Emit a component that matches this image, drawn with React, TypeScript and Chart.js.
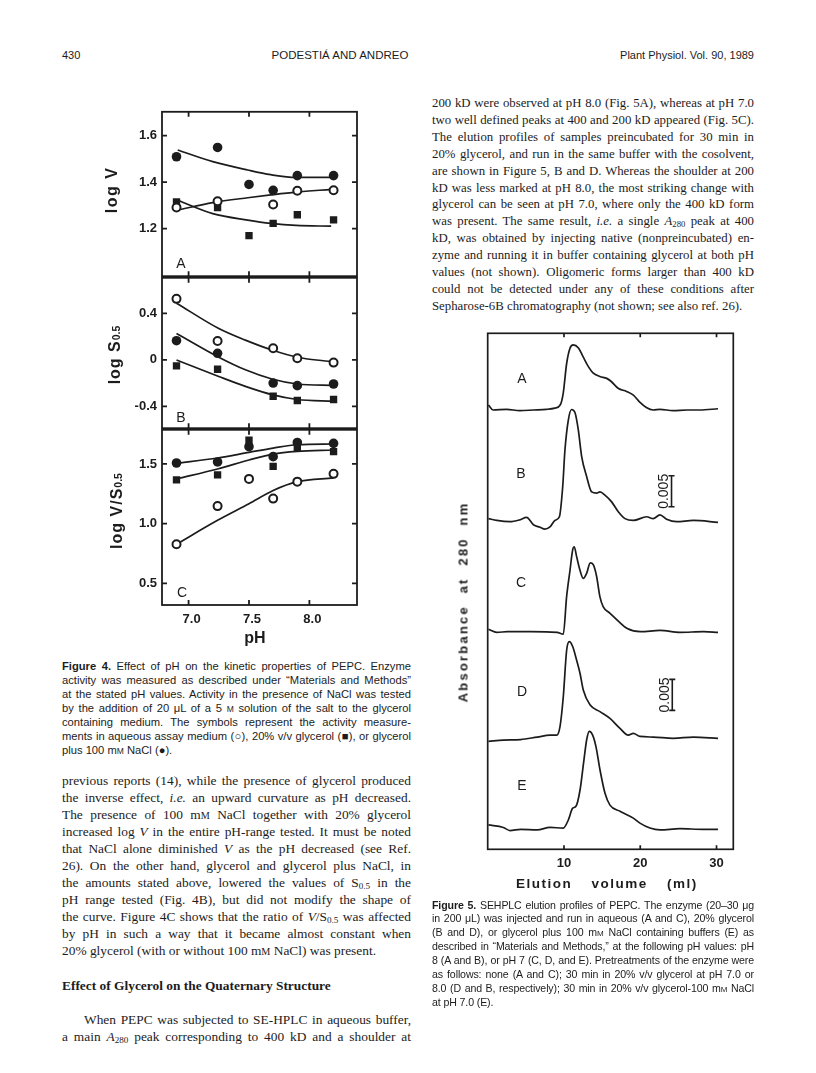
import { useEffect, useRef } from "react";
import { Chart, registerables } from "chart.js";
Chart.register(...registerables);

const INK = "#1c1c1c";
const SANS = "'Liberation Sans', Arial, Helvetica, sans-serif";
const SERIF = "'Liberation Serif', 'Times New Roman', serif";

// ---------- Figure 4 data (pH vs kinetic parameters) ----------
const PH_TICKS = [7.0, 7.5, 8.0];

// Panel A: log V
const PH_A = [6.9, 7.24, 7.5, 7.7, 7.9, 8.2];
const LOGV_AQUEOUS = [1.291, 1.318, null, 1.304, 1.363, 1.365];
const LOGV_GLYCEROL = [1.315, 1.291, 1.17, 1.223, 1.26, 1.238];
const LOGV_NACL = [1.509, 1.549, 1.39, 1.365, 1.428, 1.428];
const FIT_PH_A = [6.91, 7.2, 7.49, 7.68, 7.89, 8.18];
const FIT_LOGV_AQUEOUS = [1.28, 1.312, 1.333, 1.345, 1.357, 1.369];
const FIT_LOGV_GLYCEROL = [1.322, 1.265, 1.237, 1.223, 1.214, 1.211];
const FIT_LOGV_NACL = [1.538, 1.488, 1.452, 1.432, 1.42, 1.42];
const LOGV_TICKS = [1.2, 1.4, 1.6];
const LOGV_TICK_LABELS = ["1.2", "1.4", "1.6"];

// Panel B: log S0.5
const PH_B = [6.9, 7.24, 7.7, 7.9, 8.2];
const LOGS_AQUEOUS = [0.525, 0.162, 0.1, 0.014, -0.023];
const LOGS_GLYCEROL = [-0.051, -0.08, -0.312, -0.349, -0.34];
const LOGS_NACL = [0.165, 0.057, -0.199, -0.221, -0.207];
const FIT_PH_B = [6.9, 7.25, 7.47, 7.69, 7.9, 8.2];
const FIT_LOGS_AQUEOUS = [0.488, 0.27, 0.17, 0.085, 0.023, -0.016];
const FIT_LOGS_GLYCEROL = [0.0, -0.142, -0.227, -0.298, -0.34, -0.355];
const FIT_LOGS_NACL = [0.227, 0.023, -0.085, -0.164, -0.207, -0.219];
const LOGS_TICKS = [-0.4, 0, 0.4];
const LOGS_TICK_LABELS = ["-0.4", "0", "0.4"];

// Panel C: log V/S0.5
const PH_C = [6.9, 7.24, 7.5, 7.7, 7.9, 8.2];
const LOGVS_AQUEOUS = [0.828, 1.147, 1.375, 1.21, 1.352, 1.417];
const LOGVS_GLYCEROL = [1.367, 1.408, 1.7, 1.48, 1.633, 1.603];
const LOGVS_NACL = [1.508, 1.517, 1.645, 1.561, 1.68, 1.672];
const FIT_PH_C = [6.9, 7.24, 7.5, 7.7, 7.9, 8.2];
const FIT_LOGVS_AQUEOUS = [0.828, 1.028, 1.167, 1.278, 1.352, 1.383];
const FIT_LOGVS_GLYCEROL = [1.375, 1.458, 1.533, 1.583, 1.605, 1.617];
const FIT_LOGVS_NACL = [1.505, 1.55, 1.597, 1.633, 1.661, 1.667];
const LOGVS_TICKS = [0.5, 1.0, 1.5];
const LOGVS_TICK_LABELS = ["0.5", "1.0", "1.5"];

// ---------- Figure 5 data (elution volume, ml  vs  A280 above baseline, milli-AU) ----------
const VOL_TICKS = [10, 20, 30];
const VOL_A = [0.1, 0.7, 2.5, 4.2, 6.0, 7.7, 8.8, 9.5, 9.9, 10.35, 10.8, 11.2, 11.9, 12.5, 13.2, 13.8, 14.7, 15.6, 16.2, 17.1, 18.2, 19.1, 19.9, 20.8, 21.7, 22.6, 24.3, 26.1, 27.8, 30.2];
const ABS_A = [0.8, 0, 0.1, -0.1, 0, 0.1, 0.3, 0.8, 2.7, 7.5, 10.0, 10.5, 10.0, 8.6, 7.0, 6.0, 5.4, 5.1, 4.6, 3.5, 3.0, 2.4, 1.3, 0.4, 0, 0.1, -0.1, 0, 0, 0.2];
const VOL_B = [0.1, 1.2, 2.9, 4.2, 5.1, 6.0, 6.85, 7.5, 8.2, 8.8, 9.4, 9.83, 10.13, 10.57, 11.0, 11.44, 11.88, 12.32, 12.97, 13.63, 14.28, 14.72, 15.37, 16.25, 17.12, 18.0, 19.1, 20.84, 21.7, 22.58, 23.46, 24.77, 26.95, 30.2];
const ABS_B = [0.5, 0.2, 0, 0.3, 0.7, -0.5, -0.9, -1.2, -0.8, 0.2, 0.8, 5.6, 11.6, 16.4, 18.1, 17.6, 14.8, 10.5, 7.3, 4.8, 4.6, 4.8, 4.3, 3.2, 1.6, 0.5, 0.2, 0.8, 0.5, 1.1, 0.4, 0, 0.2, -0.1];
const VOL_C = [0.1, 1.2, 2.6, 5.6, 9.1, 9.91, 10.35, 10.79, 11.14, 11.35, 11.66, 12.1, 12.53, 12.97, 13.45, 13.84, 14.28, 14.7, 15.15, 16.0, 17.3, 18.3, 20.0, 22.6, 25.2, 28.3, 30.2];
const ABS_C = [0.5, 0, 0.1, 0.1, 0, -0.3, 5.8, 10.0, 13.3, 13.8, 12.2, 10.0, 8.7, 9.5, 11.2, 10.9, 9.0, 5.8, 4.1, 3.1, 1.6, 0.6, 0.1, 0.3, 0, 0.1, 0];
const VOL_D = [0.1, 2.05, 4.31, 6.5, 8.17, 9.04, 9.48, 9.91, 10.35, 10.7, 11.14, 11.66, 12.1, 12.53, 13.41, 14.72, 16.03, 17.34, 18.43, 19.09, 19.96, 21.71, 24.33, 26.95, 30.2];
const ABS_D = [-0.5, -0.3, -0.2, 0.2, 0.5, 0.5, 1.9, 6.7, 14.2, 15.6, 14.8, 12.6, 10.5, 7.8, 5.4, 4.3, 3.2, 1.6, 0.5, 0.8, 0.3, 0.2, 0, 0.2, 0];
const VOL_E = [0.1, 2.05, 2.92, 4.31, 6.5, 8.17, 9.91, 10.57, 11.14, 11.57, 12.1, 12.62, 12.97, 13.32, 13.76, 14.2, 14.72, 15.38, 16.03, 17.34, 19.09, 19.96, 21.27, 22.58, 25.2, 28.26, 30.2];
const ABS_E = [0.7, 0.3, -0.2, 0, -0.1, 0.3, 0.2, 1.5, 3.4, 3.7, 6.3, 11.2, 14.4, 15.8, 15.2, 13.3, 9.6, 5.8, 3.9, 2.9, 1.8, 1.0, 0.2, -0.1, 0.1, 0, 0];
const SCALE_BAR_MAU = 5; // 0.005 absorbance units

// ---------- text ----------
const HEADER = ["430", "PODESTIÁ AND ANDREO", "Plant Physiol. Vol. 90, 1989"];
const RIGHT_BODY = [
  "200 kD were observed at pH 8.0 (Fig. 5A), whereas at pH 7.0",
  "two well defined peaks at 400 and 200 kD appeared (Fig. 5C).",
  "The elution profiles of samples preincubated for 30 min in",
  "20% glycerol, and run in the same buffer with the cosolvent,",
  "are shown in Figure 5, B and D. Whereas the shoulder at 200",
  "kD was less marked at pH 8.0, the most striking change with",
  "glycerol can be seen at pH 7.0, where only the 400 kD form",
  "was present. The same result, _i.e._ a single _A_^280^ peak at 400",
  "kD, was obtained by injecting native (nonpreincubated) en-",
  "zyme and running it in buffer containing glycerol at both pH",
  "values (not shown). Oligomeric forms larger than 400 kD",
  "could not be detected under any of these conditions after",
  "Sepharose-6B chromatography (not shown; see also ref. 26).",
];
const FIG4_CAPTION = [
  "*Figure 4.* Effect of pH on the kinetic properties of PEPC. Enzyme",
  "activity was measured as described under “Materials and Methods”",
  "at the stated pH values. Activity in the presence of NaCl was tested",
  "by the addition of 20 μL of a 5 ~M~ solution of the salt to the glycerol",
  "containing medium. The symbols represent the activity measure-",
  "ments in aqueous assay medium (○), 20% v/v glycerol (■), or glycerol",
  "plus 100 m~M~ NaCl (●).",
];
const LEFT_BODY = [
  "previous reports (14), while the presence of glycerol produced",
  "the inverse effect, _i.e._ an upward curvature as pH decreased.",
  "The presence of 100 m~M~ NaCl together with 20% glycerol",
  "increased log _V_ in the entire pH-range tested. It must be noted",
  "that NaCl alone diminished _V_ as the pH decreased (see Ref.",
  "26). On the other hand, glycerol and glycerol plus NaCl, in",
  "the amounts stated above, lowered the values of S^0.5^ in the",
  "pH range tested (Fig. 4B), but did not modify the shape of",
  "the curve. Figure 4C shows that the ratio of _V_/S^0.5^ was affected",
  "by pH in such a way that it became almost constant when",
  "20% glycerol (with or without 100 m~M~ NaCl) was present.",
];
const HEADING = "Effect of Glycerol on the Quaternary Structure";
const LEFT_BODY2 = [
  "When PEPC was subjected to SE-HPLC in aqueous buffer,",
  "a main _A_^280^ peak corresponding to 400 kD and a shoulder at",
];
const FIG5_CAPTION = [
  "*Figure 5.*  SEHPLC elution profiles of PEPC. The enzyme (20–30 μg",
  "in 200 μL) was injected and run in aqueous (A and C), 20% glycerol",
  "(B and D), or glycerol plus 100 m~M~ NaCl containing buffers (E) as",
  "described in “Materials and Methods,” at the following pH values: pH",
  "8 (A and B), or pH 7 (C, D, and E). Pretreatments of the enzyme were",
  "as follows: none (A and C); 30 min in 20% v/v glycerol at pH 7.0 or",
  "8.0 (D and B, respectively); 30 min in 20% v/v glycerol-100 m~M~ NaCl",
  "at pH 7.0 (E).",
];

function rich(s: string) {
  const out: any[] = [];
  const re = /\*([^*]+)\*|_([^_]+)_|\^([^^]+)\^|~([^~]+)~/g;
  let last = 0;
  let k = 0;
  let m: any;
  while ((m = re.exec(s))) {
    if (m.index > last) out.push(s.slice(last, m.index));
    if (m[1]) out.push(<b key={k++}>{m[1]}</b>);
    else if (m[2]) out.push(<i key={k++}>{m[2]}</i>);
    else if (m[3]) out.push(<sub key={k++} style={{ fontSize: "0.68em", verticalAlign: "-0.2em", lineHeight: 0 }}>{m[3]}</sub>);
    else if (m[4]) out.push(<span key={k++} style={{ fontSize: "0.76em" }}>{m[4]}</span>);
    last = re.lastIndex;
  }
  if (last < s.length) out.push(s.slice(last));
  return out;
}

function pts(xs: number[], ys: any[]) {
  const r: any[] = [];
  xs.forEach((x, i) => {
    if (ys[i] !== null && ys[i] !== undefined) r.push({ x, y: ys[i] });
  });
  return r;
}

const framePlugin = {
  id: "frame",
  afterDatasetsDraw(chart: any, _args: any, opts: any) {
    const { ctx, chartArea: a } = chart;
    ctx.save();
    ctx.strokeStyle = INK;
    ctx.lineWidth = opts.lineWidth || 1.8;
    ctx.strokeRect(a.left, a.top, a.right - a.left, a.bottom - a.top);
    const L = opts.tick || 5;
    ctx.beginPath();
    for (const v of opts.xTicks || []) {
      const p = chart.scales.x.getPixelForValue(v);
      ctx.moveTo(p, a.top);
      ctx.lineTo(p, a.top + L);
      ctx.moveTo(p, a.bottom);
      ctx.lineTo(p, a.bottom - L);
    }
    for (const v of opts.yTicks || []) {
      const p = chart.scales.y.getPixelForValue(v);
      ctx.moveTo(a.left, p);
      ctx.lineTo(a.left + L, p);
      ctx.moveTo(a.right, p);
      ctx.lineTo(a.right - L, p);
    }
    ctx.stroke();
    ctx.restore();
  },
};

const scaleBarPlugin = {
  id: "scalebars",
  afterDatasetsDraw(chart: any, _args: any, opts: any) {
    const { ctx } = chart;
    ctx.save();
    ctx.strokeStyle = INK;
    ctx.fillStyle = INK;
    ctx.lineWidth = 1.6;
    for (const b of opts.bars || []) {
      const x = chart.scales.x.getPixelForValue(b.x);
      const ys = chart.scales[b.axis];
      const y0 = ys.getPixelForValue(b.from);
      const y1 = ys.getPixelForValue(b.from + SCALE_BAR_MAU);
      ctx.beginPath();
      ctx.moveTo(x, y0);
      ctx.lineTo(x, y1);
      ctx.moveTo(x - 3, y0);
      ctx.lineTo(x + 3, y0);
      ctx.moveTo(x - 3, y1);
      ctx.lineTo(x + 3, y1);
      ctx.stroke();
      ctx.save();
      ctx.translate(x - 7.5, (y0 + y1) / 2);
      ctx.rotate(-Math.PI / 2);
      ctx.font = `14px ${SANS}`;
      ctx.textAlign = "center";
      ctx.textBaseline = "middle";
      ctx.fillText("0.005", 0, 0);
      ctx.restore();
    }
    ctx.restore();
  },
};

function markerDataset(x: number[], y: any[], style: string) {
  if (style === "open")
    return { data: pts(x, y), showLine: false, pointStyle: "circle", pointRadius: 4, backgroundColor: "#fff", borderColor: INK, borderWidth: 2 };
  if (style === "square")
    return { data: pts(x, y), showLine: false, pointStyle: "rect", pointRadius: 5.2, backgroundColor: INK, borderColor: INK, borderWidth: 0 };
  return { data: pts(x, y), showLine: false, pointStyle: "circle", pointRadius: 4.8, backgroundColor: INK, borderColor: INK, borderWidth: 0 };
}
function fitDataset(x: number[], y: number[]) {
  return { data: pts(x, y), showLine: true, pointRadius: 0, borderColor: INK, borderWidth: 1.7, cubicInterpolationMode: "monotone", fill: false };
}

function Fig4Panel(props: any) {
  const { top, bottom, yMin, yMax, yTicks, yTickLabels, showX, markers, fits } = props;
  const ref = useRef<HTMLCanvasElement>(null);
  const PAD = 12, XH = 30, LEFT = 100, W = 270, YW = 62, PADR = 13;
  const h = PAD + (bottom - top) + (showX ? XH : PAD);
  useEffect(() => {
    const datasets = [
      ...markers.map((m: any) => markerDataset(m.x, m.y, m.style)),
      ...fits.map((f: any) => fitDataset(f.x, f.y)),
    ];
    const chart = new Chart(ref.current as HTMLCanvasElement, {
      type: "scatter",
      data: { datasets } as any,
      plugins: [framePlugin],
      options: {
        responsive: false,
        animation: false,
        devicePixelRatio: 1,
        layout: { padding: { left: 0, right: PADR, top: PAD, bottom: showX ? 0 : PAD } },
        plugins: { legend: { display: false }, tooltip: { enabled: false }, frame: { xTicks: PH_TICKS, yTicks, tick: 5 } } as any,
        scales: {
          x: {
            type: "linear",
            min: 6.78,
            max: 8.394,
            display: showX,
            afterBuildTicks: (s: any) => { s.ticks = PH_TICKS.map((v) => ({ value: v })); },
            afterFit: (s: any) => { s.height = showX ? XH : 0; },
            ticks: { font: { family: SANS, weight: "bold", size: 13 }, color: INK, padding: 7, labelOffset: 3, callback: (v: any) => Number(v).toFixed(1) },
            grid: { display: false, drawTicks: false },
            border: { display: false },
          },
          y: {
            type: "linear",
            min: yMin,
            max: yMax,
            afterBuildTicks: (s: any) => { s.ticks = yTicks.map((v: number) => ({ value: v })); },
            afterFit: (s: any) => { s.width = YW; },
            ticks: {
              font: { family: SANS, weight: "bold", size: 13 },
              color: INK,
              padding: 5,
              callback: (v: any) => { const i = yTicks.findIndex((t: number) => Math.abs(t - v) < 1e-9); return i >= 0 ? yTickLabels[i] : ""; },
            },
            grid: { display: false, drawTicks: false },
            border: { display: false },
          },
        },
      } as any,
    });
    return () => chart.destroy();
  }, []);
  return <canvas ref={ref} width={W} height={h} style={{ position: "absolute", left: LEFT, top: top - PAD, width: W, height: h, display: "block" }} />;
}

// Figure 5 chart area in page pixels and vertical scale (px per milli-AU)
const F5 = { left: 487.7, right: 733.3, top: 333.3, bottom: 849.3, pxPerMAU: 6.2 };
const TRACE_BASE_PX: any = { yA: 410, yB: 521.7, yC: 632.3, yD: 738.3, yE: 829.3 };

function Fig5() {
  const ref = useRef<HTMLCanvasElement>(null);
  const CL = 470, CT = 320, CW = 280, CH = 560, XH = 25;
  useEffect(() => {
    const traces = [
      { id: "yA", x: VOL_A, y: ABS_A },
      { id: "yB", x: VOL_B, y: ABS_B },
      { id: "yC", x: VOL_C, y: ABS_C },
      { id: "yD", x: VOL_D, y: ABS_D },
      { id: "yE", x: VOL_E, y: ABS_E },
    ];
    const scales: any = {
      x: {
        type: "linear",
        min: 0,
        max: 32.2,
        afterBuildTicks: (s: any) => { s.ticks = VOL_TICKS.map((v) => ({ value: v })); },
        afterFit: (s: any) => { s.height = XH; },
        ticks: { font: { family: SANS, weight: "bold", size: 13 }, color: INK, padding: 6 },
        grid: { display: false, drawTicks: false },
        border: { display: false },
      },
      y: { display: false },
    };
    for (const t of traces) {
      const b = TRACE_BASE_PX[t.id];
      scales[t.id] = {
        type: "linear",
        display: false,
        min: -(F5.bottom - b) / F5.pxPerMAU,
        max: (b - F5.top) / F5.pxPerMAU,
      };
    }
    const datasets = traces.map((t) => ({
      data: pts(t.x, t.y),
      yAxisID: t.id,
      showLine: true,
      pointRadius: 0,
      borderColor: INK,
      borderWidth: 1.7,
      cubicInterpolationMode: "monotone",
      clip: false,
    }));
    const chart = new Chart(ref.current as HTMLCanvasElement, {
      type: "scatter",
      data: { datasets } as any,
      plugins: [framePlugin, scaleBarPlugin],
      options: {
        responsive: false,
        animation: false,
        devicePixelRatio: 1,
        layout: {
          padding: { left: F5.left - CL, right: CL + CW - F5.right, top: F5.top - CT, bottom: CT + CH - F5.bottom - XH },
        },
        plugins: {
          legend: { display: false },
          tooltip: { enabled: false },
          frame: { xTicks: VOL_TICKS, yTicks: [], tick: 4, lineWidth: 1.7 },
          scalebars: { bars: [{ axis: "yB", x: 24.1, from: 2.4 }, { axis: "yD", x: 24.2, from: 4.5 }] },
        } as any,
        scales,
      } as any,
    });
    return () => chart.destroy();
  }, []);
  return <canvas ref={ref} width={CW} height={CH} style={{ position: "absolute", left: CL, top: CT, width: CW, height: CH, display: "block" }} />;
}

function TextLine(props: any) {
  const { x, cy, w, size, lh, family, justify, indent, weight, children, align, ls } = props;
  return (
    <div
      style={{
        position: "absolute",
        left: x,
        top: cy - lh / 2 - 0.5,
        width: w,
        fontSize: size,
        lineHeight: `${lh}px`,
        fontFamily: family,
        fontWeight: weight || "normal",
        letterSpacing: ls || 0,
        textAlign: align || (justify ? "justify" : "left"),
        textAlignLast: align || (justify ? "justify" : "left"),
        paddingLeft: indent || 0,
        boxSizing: "border-box",
        color: INK,
      } as any}
    >
      {children}
    </div>
  );
}

function Rot(props: any) {
  const { cx, cy, size, children, spacing, wordSpacing } = props;
  return (
    <div
      style={{
        position: "absolute",
        left: cx,
        top: cy,
        transform: "translate(-50%, -50%) rotate(-90deg)",
        whiteSpace: "nowrap",
        fontFamily: SANS,
        fontWeight: "bold",
        fontSize: size,
        letterSpacing: spacing || 0,
        wordSpacing: wordSpacing || 0,
        lineHeight: 1,
        color: INK,
      }}
    >
      {children}
    </div>
  );
}

function Label(props: any) {
  const { cx, cy, size, bold, children } = props;
  return (
    <div style={{ position: "absolute", left: cx, top: cy, transform: "translate(-50%, -50%)", whiteSpace: "nowrap", fontFamily: SANS, fontWeight: bold ? "bold" : "normal", fontSize: size, lineHeight: 1, color: INK }}>
      {children}
    </div>
  );
}

const LCOL = { x: 62, w: 349 };
const RCOL = { x: 432, w: 322 };

export default function App() {
  return (
    <div style={{ position: "absolute", left: 0, top: 0, width: 816, height: 1073, background: "#fff", overflow: "hidden", color: INK }}>
      {/* running header */}
      <TextLine x={62} cy={55} w={100} size={11} lh={14} family={SANS}>{HEADER[0]}</TextLine>
      <TextLine x={240} cy={55} w={200} size={11.5} lh={14} family={SANS} align="center">{HEADER[1]}</TextLine>
      <TextLine x={554} cy={55} w={200} size={11} lh={14} family={SANS} align="right">{HEADER[2]}</TextLine>

      {/* Figure 4 */}
      <Fig4Panel
        top={111}
        bottom={277}
        yMin={0.996}
        yMax={1.702}
        yTicks={LOGV_TICKS}
        yTickLabels={LOGV_TICK_LABELS}
        showX={false}
        markers={[
          { x: PH_A, y: LOGV_NACL, style: "filled" },
          { x: PH_A, y: LOGV_AQUEOUS, style: "open" },
          { x: PH_A, y: LOGV_GLYCEROL, style: "square" },
        ]}
        fits={[
          { x: FIT_PH_A, y: FIT_LOGV_NACL },
          { x: FIT_PH_A, y: FIT_LOGV_AQUEOUS },
          { x: FIT_PH_A, y: FIT_LOGV_GLYCEROL },
        ]}
      />
      <Fig4Panel
        top={277}
        bottom={429}
        yMin={-0.587}
        yMax={0.706}
        yTicks={LOGS_TICKS}
        yTickLabels={LOGS_TICK_LABELS}
        showX={false}
        markers={[
          { x: PH_B, y: LOGS_NACL, style: "filled" },
          { x: PH_B, y: LOGS_AQUEOUS, style: "open" },
          { x: PH_B, y: LOGS_GLYCEROL, style: "square" },
        ]}
        fits={[
          { x: FIT_PH_B, y: FIT_LOGS_NACL },
          { x: FIT_PH_B, y: FIT_LOGS_AQUEOUS },
          { x: FIT_PH_B, y: FIT_LOGS_GLYCEROL },
        ]}
      />
      <Fig4Panel
        top={429}
        bottom={605}
        yMin={0.319}
        yMax={1.786}
        yTicks={LOGVS_TICKS}
        yTickLabels={LOGVS_TICK_LABELS}
        showX={true}
        markers={[
          { x: PH_C, y: LOGVS_NACL, style: "filled" },
          { x: PH_C, y: LOGVS_GLYCEROL, style: "square" },
          { x: PH_C, y: LOGVS_AQUEOUS, style: "open" },
        ]}
        fits={[
          { x: FIT_PH_C, y: FIT_LOGVS_NACL },
          { x: FIT_PH_C, y: FIT_LOGVS_GLYCEROL },
          { x: FIT_PH_C, y: FIT_LOGVS_AQUEOUS },
        ]}
      />
      <Label cx={181} cy={263} size={14}>A</Label>
      <Label cx={181} cy={417} size={14}>B</Label>
      <Label cx={182} cy={592} size={14}>C</Label>
      <Rot cx={112} cy={190} size={16} spacing={1.5}>log V</Rot>
      <Rot cx={115} cy={355} size={16} spacing={1}>log S<span style={{ fontSize: 10.5, letterSpacing: 0 }}>0.5</span></Rot>
      <Rot cx={117} cy={511} size={16} spacing={1}>log V/S<span style={{ fontSize: 10.5, letterSpacing: 0 }}>0.5</span></Rot>
      <Label cx={255} cy={638} size={16} bold>pH</Label>

      {/* Figure 4 caption */}
      {FIG4_CAPTION.map((t, i) => (
        <TextLine key={"c4" + i} x={LCOL.x} cy={666 + 14 * i} w={LCOL.w} size={11.2} lh={14} family={SANS} justify={i < FIG4_CAPTION.length - 1}>{rich(t)}</TextLine>
      ))}

      {/* left column body */}
      {LEFT_BODY.map((t, i) => (
        <TextLine key={"lb" + i} x={LCOL.x} cy={781 + 17 * i} w={LCOL.w} size={13.4} lh={17} family={SERIF} justify={i < LEFT_BODY.length - 1}>{rich(t)}</TextLine>
      ))}
      <TextLine x={LCOL.x} cy={986} w={LCOL.w} size={13.4} lh={17} family={SERIF} weight="bold">{HEADING}</TextLine>
      {LEFT_BODY2.map((t, i) => (
        <TextLine key={"lb2" + i} x={LCOL.x} cy={1020 + 17 * i} w={LCOL.w} size={13.4} lh={17} family={SERIF} justify indent={i === 0 ? 22 : 0}>{rich(t)}</TextLine>
      ))}

      {/* right column body */}
      {RIGHT_BODY.map((t, i) => (
        <TextLine key={"rb" + i} x={RCOL.x} cy={104 + 16.9 * i} w={RCOL.w} size={12.8} lh={17} family={SERIF} justify={i < RIGHT_BODY.length - 1}>{rich(t)}</TextLine>
      ))}

      {/* Figure 5 */}
      <Fig5 />
      <Label cx={522} cy={378} size={14}>A</Label>
      <Label cx={521} cy={473} size={14}>B</Label>
      <Label cx={521} cy={582} size={14}>C</Label>
      <Label cx={522} cy={691} size={14}>D</Label>
      <Label cx={522} cy={785} size={14}>E</Label>
      <Rot cx={463} cy={602} size={13} spacing={2.2} wordSpacing={6}>Absorbance at 280 nm</Rot>
      <div style={{ position: "absolute", left: 607, top: 884, transform: "translate(-50%, -50%)", whiteSpace: "nowrap", fontFamily: SANS, fontWeight: "bold", fontSize: 13.5, letterSpacing: 1.5, wordSpacing: 14, lineHeight: 1, color: INK }}>
        Elution volume (ml)
      </div>

      {/* Figure 5 caption */}
      {FIG5_CAPTION.map((t, i) => (
        <TextLine key={"c5" + i} x={RCOL.x} cy={905 + 13.9 * i} w={RCOL.w} size={10.6} ls={-0.12} lh={14} family={SANS} justify={i < FIG5_CAPTION.length - 1}>{rich(t)}</TextLine>
      ))}
    </div>
  );
}
